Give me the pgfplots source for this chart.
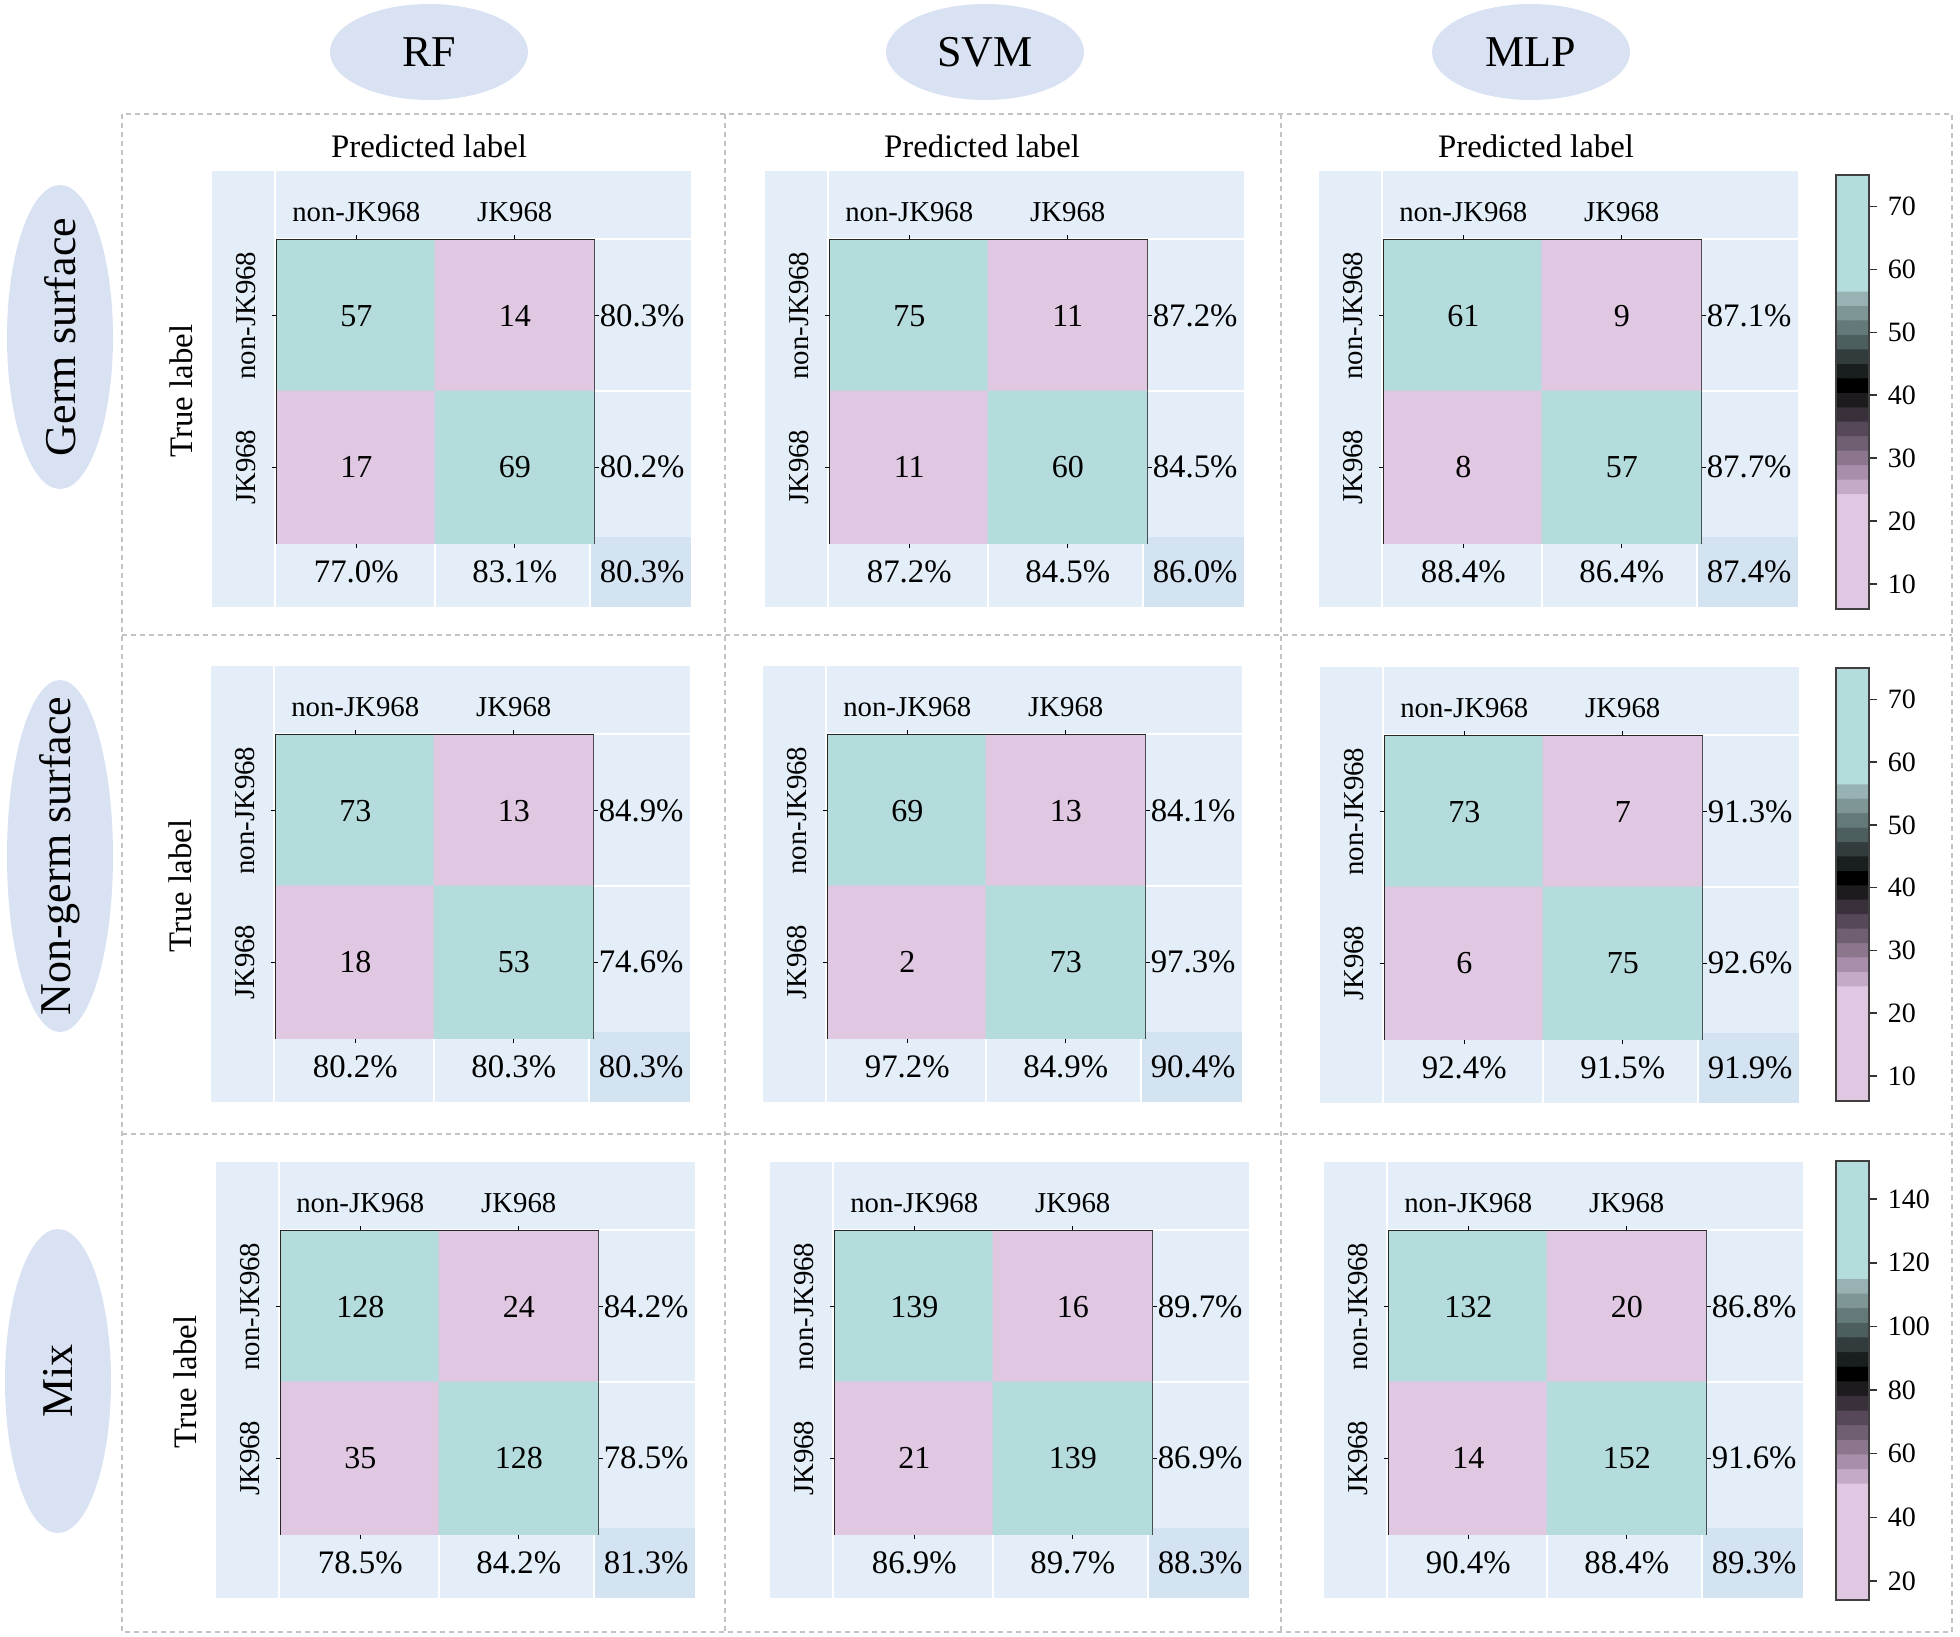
\documentclass[border=0pt]{standalone}
\usepackage{fontspec}
\setmainfont{Liberation Serif}
\usepackage{pgfplots}
\pgfplotsset{compat=1.18}
\definecolor{bgblue}{RGB}{227,238,248}
\definecolor{bgdark}{RGB}{212,227,242}
\definecolor{ellc}{RGB}{217,226,242}
\definecolor{dashc}{RGB}{195,195,195}
\newcommand\fs[1]{\fontsize{#1}{#1}\selectfont}
\newcommand\bg[2]{%
\begin{scope}[x=0.25pt,y=-0.25pt]
 \fill[bgblue] ({#1-65},{#2-69}) rectangle ({#1+414},{#2+367});
 \fill[bgdark] ({#1+314},{#2+297}) rectangle ({#1+414},{#2+367});
 \draw[white, line width=0.5pt] ({#1-2},{#2-69}) -- ({#1-2},{#2+367});
 \draw[white, line width=0.5pt] ({#1-2},{#2-1}) -- ({#1+414},{#2-1});
 \draw[white, line width=0.5pt] ({#1+317},{#2+151}) -- ({#1+414},{#2+151});
 \draw[white, line width=0.5pt] ({#1+158},{#2+303}) -- ({#1+158},{#2+367});
 \draw[white, line width=0.5pt] ({#1+313},{#2+303}) -- ({#1+313},{#2+367});
\end{scope}}
\tikzset{acc/.style={font=\fs{8.2}, inner sep=0pt, anchor=north west, xshift=1.25pt, yshift=-4.25pt}}
\pgfplotsset{
 /pgf/number format/assume math mode=true,
 colormap={cmpair}{rgb255=(224,200,226) rgb255=(180,220,220)},
 colormap={cbbands}{
  rgb255=(224,200,226) rgb255=(224,200,226) rgb255=(224,200,226) rgb255=(224,200,226)
  rgb255=(224,200,226) rgb255=(224,200,226) rgb255=(224,200,226) rgb255=(224,200,226)
  rgb255=(196,170,198) rgb255=(168,142,170) rgb255=(140,118,142) rgb255=(112,94,114)
  rgb255=(86,72,88) rgb255=(58,48,60) rgb255=(30,27,31) rgb255=(0,0,0)
  rgb255=(25,31,31) rgb255=(50,60,60) rgb255=(76,94,94) rgb255=(100,122,122)
  rgb255=(126,150,150) rgb255=(152,178,180)
  rgb255=(180,220,220) rgb255=(180,220,220) rgb255=(180,220,220) rgb255=(180,220,220)
  rgb255=(180,220,220) rgb255=(180,220,220) rgb255=(180,220,220) rgb255=(180,220,220)},
 cmA/.style 2 args={
  at={({0.25pt*#1},{-0.25pt*#2})}, anchor=north west,
  scale only axis, width=79.25pt, height=75.75pt,
  xmin=-0.5, xmax=1.5, ymin=-0.5, ymax=1.5, y dir=reverse,
  xtick={0,1}, ytick={0,1},
  xticklabels={non-JK968,JK968}, yticklabels={non-JK968,JK968},
  xtick pos=both, ytick pos=both, xticklabel pos=upper, yticklabel pos=left,
  tick align=outside, major tick length=1.25pt,
  tick style={black, line width=0.35pt},
  axis line style={black!85, line width=0.5pt},
  xticklabel style={font=\fs{7.2}, inner sep=0pt, anchor=south},
  yticklabel style={font=\fs{7.2}, inner sep=0pt, rotate=90, anchor=south},
  xticklabel shift=3pt, yticklabel shift=3.75pt,
  colormap name=cmpair, colormap access=direct},
 cmB/.style 2 args={
  at={({0.25pt*#1},{-0.25pt*#2})}, anchor=north west,
  scale only axis, width=79.25pt, height=75.75pt,
  xmin=-0.5, xmax=1.5, ymin=-0.5, ymax=1.5, y dir=reverse,
  xtick={0,1}, ytick={0,1},
  xtick pos=left, ytick pos=right, xticklabel pos=lower, yticklabel pos=right,
  major tick length=0pt, tick style={draw=none}, axis line style={draw=none},
  xticklabel style={font=\fs{8.2}, inner sep=0pt, anchor=north},
  yticklabel style={font=\fs{8.2}, inner sep=0pt, anchor=west},
  xticklabel shift=4.25pt, yticklabel shift=1.25pt, clip=false},
 cmcell/.style={matrix plot*, mesh/cols=2, point meta=explicit},
 cmnum/.style={draw=none, mark=none, nodes near coords, point meta=explicit symbolic,
  every node near coord/.append style={font=\fs{8}, anchor=center, text=black, inner sep=0pt}},
 cbA/.style n args={3}{
  at={({0.25pt*#1},{-0.25pt*#2})}, anchor=north west,
  scale only axis, width=8.25pt, height=#3,
  xmin=-0.5, xmax=1.5, ymin=-0.5, ymax=29.5, hide axis,
  colormap name=cbbands, colormap access=direct},
 cbB/.style n args={3}{
  at={({0.25pt*#1},{-0.25pt*#2})}, anchor=north west,
  scale only axis, width=8.25pt, height=#3,
  xmin=0, xmax=1, xtick=\empty, ytick pos=right, yticklabel pos=right,
  tick align=outside, major tick length=2pt,
  tick style={black!80, line width=0.35pt},
  axis line style={black!75, line width=0.5pt},
  yticklabel style={font=\fs{7}, inner sep=0pt, anchor=west},
  yticklabel shift=2.5pt},
}
\newcommand\cbands{(0,0) (1,0) (0,1) (1,1) (0,2) (1,2) (0,3) (1,3) (0,4) (1,4) (0,5) (1,5) (0,6) (1,6) (0,7) (1,7) (0,8) (1,8) (0,9) (1,9) (0,10) (1,10) (0,11) (1,11) (0,12) (1,12) (0,13) (1,13) (0,14) (1,14) (0,15) (1,15) (0,16) (1,16) (0,17) (1,17) (0,18) (1,18) (0,19) (1,19) (0,20) (1,20) (0,21) (1,21) (0,22) (1,22) (0,23) (1,23) (0,24) (1,24) (0,25) (1,25) (0,26) (1,26) (0,27) (1,27) (0,28) (1,28) (0,29) (1,29)}
\begin{document}
\begin{tikzpicture}
\begin{scope}[x=0.25pt,y=-0.25pt]
\path[use as bounding box] (0,0) rectangle (1960,1637);
\begin{scope}[dashc, line width=0.4pt, dash pattern=on 1.25pt off 1pt]
\draw (122,114) rectangle (1952,1632);
\draw (725,114) -- (725,1632);
\draw (1281,114) -- (1281,1632);
\draw (122,635) -- (1952,635);
\draw (122,1134) -- (1952,1134);
\end{scope}
\fill[ellc] (429,52) ellipse [x radius=24.75pt, y radius=12pt];
\fill[ellc] (985,52) ellipse [x radius=24.75pt, y radius=12pt];
\fill[ellc] (1531,52) ellipse [x radius=24.75pt, y radius=12pt];
\node[font=\fs{11}] at (429,52) {RF};
\node[font=\fs{11}] at (985,52) {SVM};
\node[font=\fs{11}] at (1531,52) {MLP};
\fill[ellc] (60,337) ellipse [x radius=13.25pt, y radius=38pt];
\fill[ellc] (60,856) ellipse [x radius=13.25pt, y radius=44pt];
\fill[ellc] (58,1381) ellipse [x radius=13.25pt, y radius=38pt];
\node[font=\fs{11}, rotate=90] at (60,337) {Germ surface};
\node[font=\fs{11}, rotate=90] at (60,856) {Non-germ surface};
\node[font=\fs{11}, rotate=90] at (58,1381) {Mix};
\node[font=\fs{8.2}, anchor=base] at (429,158) {Predicted label};
\node[font=\fs{8.2}, anchor=base] at (982,158) {Predicted label};
\node[font=\fs{8.2}, anchor=base] at (1536,158) {Predicted label};
\node[font=\fs{8.2}, rotate=90] at (181,391) {True label};
\node[font=\fs{8.2}, rotate=90] at (180,886) {True label};
\node[font=\fs{8.2}, rotate=90] at (185,1382) {True label};
\end{scope}

% ---------------- Row 1 ----------------
\bg{277}{240}
\begin{axis}[cmA={277}{240}]
\addplot[cmcell] coordinates {(0,0)[1] (1,0)[0] (0,1)[0] (1,1)[1]};
\addplot[cmnum] coordinates {(0,0)[57] (1,0)[14] (0,1)[17] (1,1)[69]};
\end{axis}
\begin{axis}[cmB={277}{240}, xticklabels={77.0\%,83.1\%}, yticklabels={80.3\%,80.2\%}]
\node[acc] at (axis cs:1.5,1.5) {80.3\%};
\end{axis}

\bg{830}{240}
\begin{axis}[cmA={830}{240}]
\addplot[cmcell] coordinates {(0,0)[1] (1,0)[0] (0,1)[0] (1,1)[1]};
\addplot[cmnum] coordinates {(0,0)[75] (1,0)[11] (0,1)[11] (1,1)[60]};
\end{axis}
\begin{axis}[cmB={830}{240}, xticklabels={87.2\%,84.5\%}, yticklabels={87.2\%,84.5\%}]
\node[acc] at (axis cs:1.5,1.5) {86.0\%};
\end{axis}

\bg{1384}{240}
\begin{axis}[cmA={1384}{240}]
\addplot[cmcell] coordinates {(0,0)[1] (1,0)[0] (0,1)[0] (1,1)[1]};
\addplot[cmnum] coordinates {(0,0)[61] (1,0)[9] (0,1)[8] (1,1)[57]};
\end{axis}
\begin{axis}[cmB={1384}{240}, xticklabels={88.4\%,86.4\%}, yticklabels={87.1\%,87.7\%}]
\node[acc] at (axis cs:1.5,1.5) {87.4\%};
\end{axis}

% ---------------- Row 2 ----------------
\bg{276}{735}
\begin{axis}[cmA={276}{735}]
\addplot[cmcell] coordinates {(0,0)[1] (1,0)[0] (0,1)[0] (1,1)[1]};
\addplot[cmnum] coordinates {(0,0)[73] (1,0)[13] (0,1)[18] (1,1)[53]};
\end{axis}
\begin{axis}[cmB={276}{735}, xticklabels={80.2\%,80.3\%}, yticklabels={84.9\%,74.6\%}]
\node[acc] at (axis cs:1.5,1.5) {80.3\%};
\end{axis}

\bg{828}{735}
\begin{axis}[cmA={828}{735}]
\addplot[cmcell] coordinates {(0,0)[1] (1,0)[0] (0,1)[0] (1,1)[1]};
\addplot[cmnum] coordinates {(0,0)[69] (1,0)[13] (0,1)[2] (1,1)[73]};
\end{axis}
\begin{axis}[cmB={828}{735}, xticklabels={97.2\%,84.9\%}, yticklabels={84.1\%,97.3\%}]
\node[acc] at (axis cs:1.5,1.5) {90.4\%};
\end{axis}

\bg{1385}{736}
\begin{axis}[cmA={1385}{736}]
\addplot[cmcell] coordinates {(0,0)[1] (1,0)[0] (0,1)[0] (1,1)[1]};
\addplot[cmnum] coordinates {(0,0)[73] (1,0)[7] (0,1)[6] (1,1)[75]};
\end{axis}
\begin{axis}[cmB={1385}{736}, xticklabels={92.4\%,91.5\%}, yticklabels={91.3\%,92.6\%}]
\node[acc] at (axis cs:1.5,1.5) {91.9\%};
\end{axis}

% ---------------- Row 3 ----------------
\bg{281}{1231}
\begin{axis}[cmA={281}{1231}]
\addplot[cmcell] coordinates {(0,0)[1] (1,0)[0] (0,1)[0] (1,1)[1]};
\addplot[cmnum] coordinates {(0,0)[128] (1,0)[24] (0,1)[35] (1,1)[128]};
\end{axis}
\begin{axis}[cmB={281}{1231}, xticklabels={78.5\%,84.2\%}, yticklabels={84.2\%,78.5\%}]
\node[acc] at (axis cs:1.5,1.5) {81.3\%};
\end{axis}

\bg{835}{1231}
\begin{axis}[cmA={835}{1231}]
\addplot[cmcell] coordinates {(0,0)[1] (1,0)[0] (0,1)[0] (1,1)[1]};
\addplot[cmnum] coordinates {(0,0)[139] (1,0)[16] (0,1)[21] (1,1)[139]};
\end{axis}
\begin{axis}[cmB={835}{1231}, xticklabels={86.9\%,89.7\%}, yticklabels={89.7\%,86.9\%}]
\node[acc] at (axis cs:1.5,1.5) {88.3\%};
\end{axis}

\bg{1389}{1231}
\begin{axis}[cmA={1389}{1231}]
\addplot[cmcell] coordinates {(0,0)[1] (1,0)[0] (0,1)[0] (1,1)[1]};
\addplot[cmnum] coordinates {(0,0)[132] (1,0)[20] (0,1)[14] (1,1)[152]};
\end{axis}
\begin{axis}[cmB={1389}{1231}, xticklabels={90.4\%,88.4\%}, yticklabels={86.8\%,91.6\%}]
\node[acc] at (axis cs:1.5,1.5) {89.3\%};
\end{axis}

% ---------------- Colour bars ----------------
\begin{axis}[cbA={1836}{175}{108.5pt}]
\addplot[matrix plot*, mesh/cols=2, point meta=y] coordinates {\cbands};
\end{axis}
\begin{axis}[cbB={1836}{175}{108.5pt}, ymin=6, ymax=75, ytick={10,20,...,70}]
\end{axis}
\begin{axis}[cbA={1836}{668}{108.25pt}]
\addplot[matrix plot*, mesh/cols=2, point meta=y] coordinates {\cbands};
\end{axis}
\begin{axis}[cbB={1836}{668}{108.25pt}, ymin=6, ymax=75, ytick={10,20,...,70}]
\end{axis}
\begin{axis}[cbA={1836}{1161}{109.75pt}]
\addplot[matrix plot*, mesh/cols=2, point meta=y] coordinates {\cbands};
\end{axis}
\begin{axis}[cbB={1836}{1161}{109.75pt}, ymin=14, ymax=152, ytick={20,40,...,140}]
\end{axis}
\end{tikzpicture}
\end{document}
